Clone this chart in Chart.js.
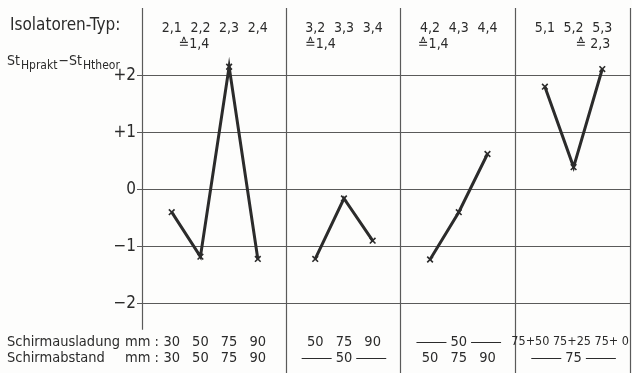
<!DOCTYPE html>
<html>
<head>
<meta charset="utf-8">
<script src="https://cdn.jsdelivr.net/npm/chart.js@4.4.1/dist/chart.umd.min.js"></script>
<style>
  html, body { margin: 0; padding: 0; background: #fdfdfc; overflow: hidden; }
  canvas { display: block; }
</style>
</head>
<body>
<canvas id="chart" width="632" height="373"></canvas>
<script>
// column positions on the x scale, one unit per insulator type
const sec1X = [1, 2, 3, 4];
const sec2X = [6, 7, 8];
const sec3X = [10, 11, 12];
const sec4X = [14, 15, 16];
const dividerX = [0, 5, 9, 13, 17];

// St_H prakt - St_H theor
const sec1Values = [-0.39, -1.17, 2.16, -1.21];
const sec2Values = [-1.21, -0.15, -0.89];
const sec3Values = [-1.22, -0.39, 0.63];
const sec4Values = [1.81, 0.40, 2.12];

const sec1Types = ['2,1', '2,2', '2,3', '2,4'];
const sec2Types = ['3,2', '3,3', '3,4'];
const sec3Types = ['4,2', '4,3', '4,4'];
const sec4Types = ['5,1', '5,2', '5,3'];
const equivLabels = ['\u22591,4', '\u22591,4', '\u22591,4', '\u2259 2,3'];

const ausladung1 = ['30', '50', '75', '90'];
const ausladung2 = ['50', '75', '90'];
const ausladung3 = '50';
const ausladung4 = '75+50 75+25 75+ 0';
const abstand1 = ['30', '50', '75', '90'];
const abstand2 = '50';
const abstand3 = ['50', '75', '90'];
const abstand4 = '75';

const yTicks = [-2, -1, 0, 1, 2];

const FONT = "'DejaVu Sans Condensed', 'Liberation Sans Narrow', sans-serif";
const INK = '#2b2b2b';
const GRID = '#5a5a5a';

function series(xs, ys) {
  return {
    data: xs.map((x, i) => ({ x: x, y: ys[i] })),
    borderColor: INK,
    borderWidth: 3,
    pointStyle: 'crossRot',
    pointRadius: 4,
    pointBorderWidth: 1.6,
    pointBorderColor: INK,
    tension: 0
  };
}

const dividers = {
  id: 'dividers',
  beforeDatasetsDraw(chart) {
    const { ctx, chartArea } = chart;
    const xs = chart.scales.x, ys = chart.scales.y;
    ctx.save();
    ctx.strokeStyle = GRID;
    ctx.lineWidth = 1.2;
    dividerX.forEach(v => {
      const px = Math.round(xs.getPixelForValue(v)) - 0.5;
      const bottom = v === 0 ? ys.getPixelForValue(-2.45) : chartArea.bottom;
      ctx.beginPath();
      ctx.moveTo(px, chartArea.top);
      ctx.lineTo(px, bottom);
      ctx.stroke();
    });
    ctx.restore();
  }
};

const texts = {
  id: 'texts',
  afterDraw(chart) {
    const { ctx } = chart;
    const xs = chart.scales.x;
    const px = v => xs.getPixelForValue(v);
    ctx.save();
    ctx.fillStyle = INK;
    ctx.strokeStyle = INK;
    ctx.textBaseline = 'middle';

    // heading
    ctx.font = '17px ' + FONT;
    ctx.textAlign = 'left';
    ctx.fillText('Isolatoren-Typ:', 10, 26);
    let x = 7;
    const parts = [['St', 0, 14], ['Hprakt', 5, 12], ['\u2212St', 0, 14], ['Htheor', 5, 12]];
    parts.forEach(p => {
      ctx.font = p[2] + 'px ' + FONT;
      ctx.fillText(p[0], x, 61 + p[1]);
      x += ctx.measureText(p[0]).width + 1;
    });

    // insulator types on top
    ctx.font = '14px ' + FONT;
    ctx.textAlign = 'center';
    [[sec1X, sec1Types], [sec2X, sec2Types], [sec3X, sec3Types], [sec4X, sec4Types]].forEach(s => {
      s[0].forEach((v, i) => ctx.fillText(s[1][i], px(v), 28));
    });
    ctx.textAlign = 'left';
    ctx.fillText(equivLabels[0], px(sec1X[0]) + 7, 44);
    ctx.fillText(equivLabels[1], px(sec2X[0]) - 10, 44);
    ctx.fillText(equivLabels[2], px(sec3X[0]) - 12, 44);
    ctx.textAlign = 'right';
    ctx.fillText(equivLabels[3], px(sec4X[2]) + 8, 44);

    // bottom rows
    const r1 = 342, r2 = 358;
    ctx.font = '14.5px ' + FONT;
    ctx.textAlign = 'left';
    ctx.fillText('Schirmausladung', 7, r1);
    ctx.fillText('Schirmabstand', 7, r2);
    ctx.fillText('mm :', 125, r1);
    ctx.fillText('mm :', 125, r2);
    ctx.textAlign = 'center';
    const row = (xsArr, labels, y) => xsArr.forEach((v, i) => ctx.fillText(labels[i], px(v), y));
    const dashed = (center, label, y) => {
      const c = px(center);
      const w = ctx.measureText(label).width / 2 + 4;
      ctx.fillText(label, c, y);
      ctx.lineWidth = 1;
      ctx.beginPath();
      ctx.moveTo(c - w - 30, y + 0.5); ctx.lineTo(c - w, y + 0.5);
      ctx.moveTo(c + w, y + 0.5); ctx.lineTo(c + w + 30, y + 0.5);
      ctx.stroke();
    };
    row(sec1X, ausladung1, r1);
    row(sec1X, abstand1, r2);
    row(sec2X, ausladung2, r1);
    dashed(sec2X[1], abstand2, r2);
    dashed(sec3X[1], ausladung3, r1);
    row(sec3X, abstand3, r2);
    ctx.font = '12.5px ' + FONT;
    ctx.textAlign = 'right';
    ctx.fillText(ausladung4, px(dividerX[4]) - 2, r1);
    ctx.textAlign = 'center';
    ctx.font = '14.5px ' + FONT;
    dashed(sec4X[1], abstand4, r2);
    ctx.restore();
  }
};

new Chart(document.getElementById('chart'), {
  type: 'line',
  data: {
    datasets: [
      series(sec1X, sec1Values),
      series(sec2X, sec2Values),
      series(sec3X, sec3Values),
      series(sec4X, sec4Values)
    ]
  },
  options: {
    responsive: false,
    animation: false,
    devicePixelRatio: 1,
    layout: { autoPadding: false, padding: { top: 8, right: 1, left: 0, bottom: 0 } },
    plugins: { legend: { display: false }, tooltip: { enabled: false } },
    scales: {
      x: { type: 'linear', min: 0, max: 17, display: false },
      y: {
        min: -3.21,
        max: 3.19,
        afterBuildTicks: s => { s.ticks = yTicks.map(v => ({ value: v })); },
        afterFit: s => { s.width = 143; s.paddingTop = 0; s.paddingBottom = 0; },
        border: { display: false },
        grid: { color: GRID, lineWidth: 1, tickLength: 6 },
        ticks: {
          padding: 1,
          color: INK,
          font: { family: FONT, size: 17 },
          callback: v => v > 0 ? '+' + v : (v < 0 ? '\u2212' + Math.abs(v) : '0')
        }
      }
    }
  },
  plugins: [dividers, texts]
});
</script>
</body>
</html>
